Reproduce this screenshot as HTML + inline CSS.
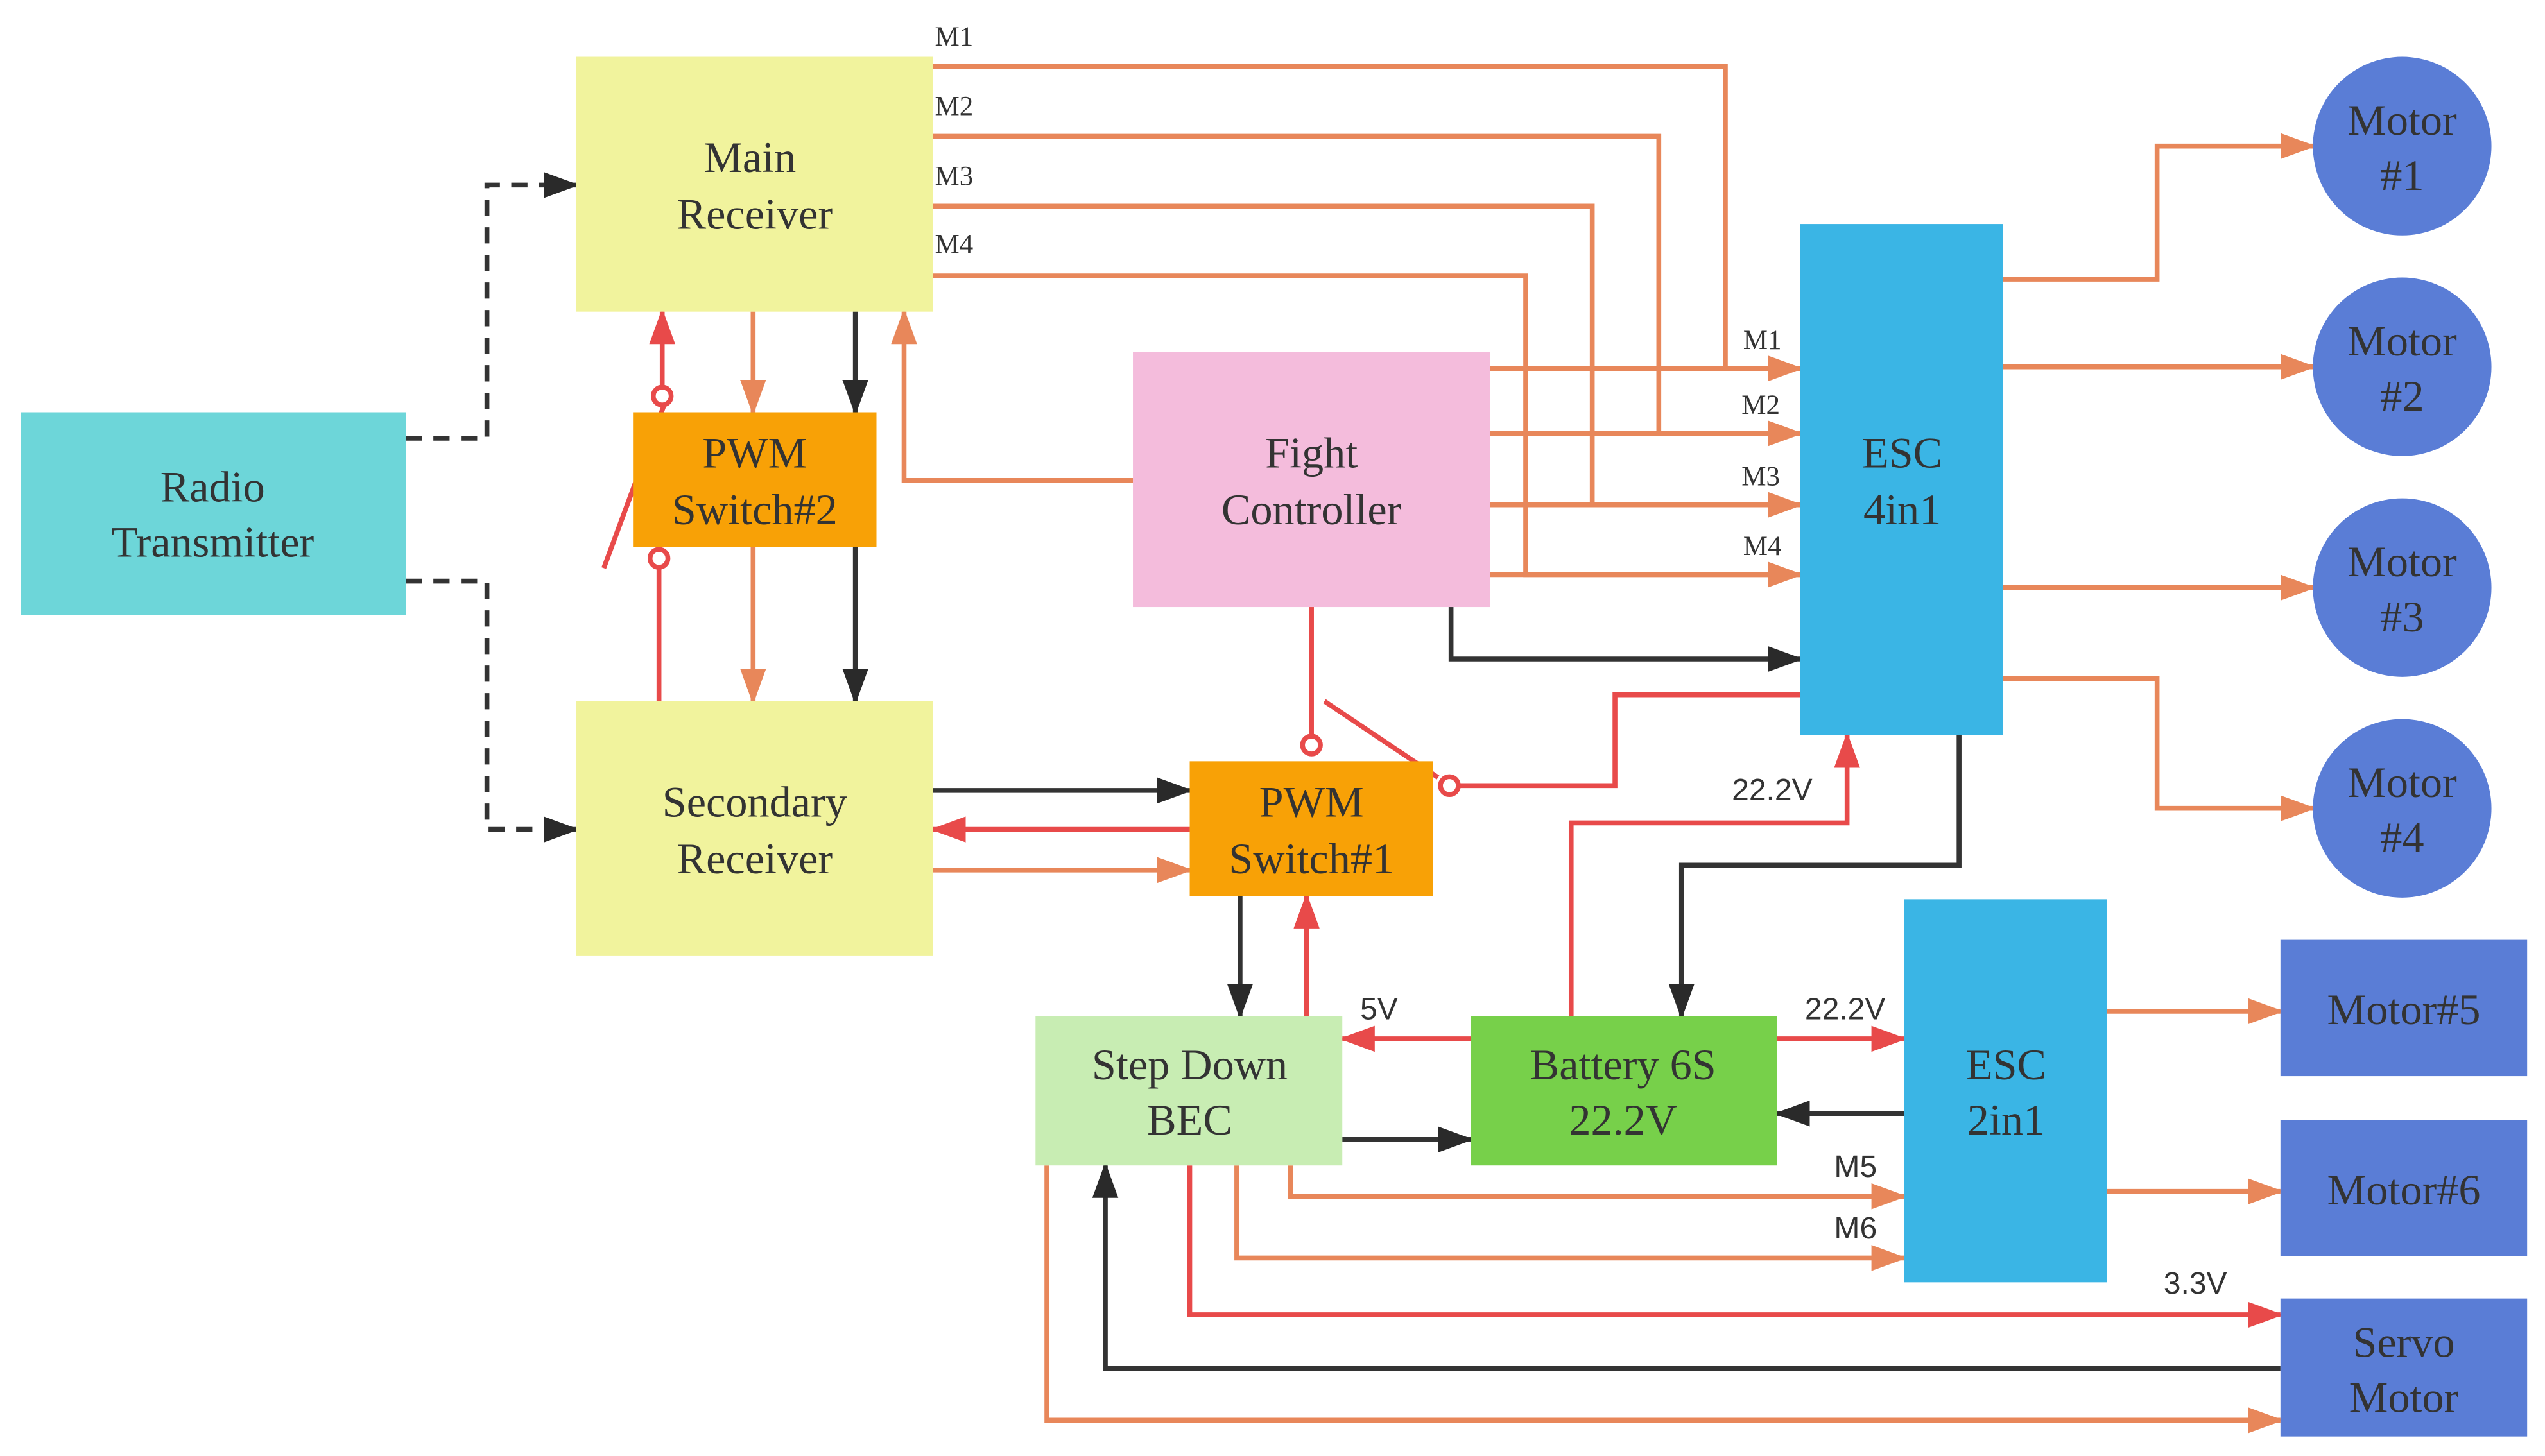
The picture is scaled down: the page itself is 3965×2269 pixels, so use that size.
<!DOCTYPE html>
<html><head><meta charset="utf-8"><style>
html,body{margin:0;padding:0;background:#fff;width:3965px;height:2269px;overflow:hidden}
svg{display:block}
.n{font-family:"Liberation Serif",serif;font-size:27px;fill:#333;text-anchor:middle}
.s{font-family:"Liberation Serif",serif;font-size:17px;fill:#333}
.v{font-family:"Liberation Sans",sans-serif;font-size:19px;fill:#333}
.o{stroke:#e8875a;stroke-width:3;fill:none}
.r{stroke:#e84a4a;stroke-width:3;fill:none}
.k{stroke:#333;stroke-width:3;fill:none}
</style></head><body>
<svg width="3965" height="2269" viewBox="0 0 1568 897" preserveAspectRatio="none" xmlns="http://www.w3.org/2000/svg">
<defs>
<marker id="ao" markerUnits="userSpaceOnUse" markerWidth="22" markerHeight="16" refX="20" refY="8" orient="auto"><path d="M0,0 L22,8 L0,16 Z" fill="#e8875a"/></marker>
<marker id="ar" markerUnits="userSpaceOnUse" markerWidth="22" markerHeight="16" refX="20" refY="8" orient="auto"><path d="M0,0 L22,8 L0,16 Z" fill="#e84a4a"/></marker>
<marker id="ak" markerUnits="userSpaceOnUse" markerWidth="22" markerHeight="16" refX="20" refY="8" orient="auto"><path d="M0,0 L22,8 L0,16 Z" fill="#2a2a2a"/></marker>
</defs>
<path class="k" stroke-dasharray="10,7" d="M250,270 H300 V114 H355" marker-end="url(#ak)"/>
<path class="k" stroke-dasharray="10,7" d="M250,358 H300 V511 H355" marker-end="url(#ak)"/>
<path class="o" d="M575,41 H1063 V227 H1109" marker-end="url(#ao)"/>
<path class="o" d="M575,84 H1022 V267 H1109" marker-end="url(#ao)"/>
<path class="o" d="M575,127 H981 V311 H1109" marker-end="url(#ao)"/>
<path class="o" d="M575,170 H940 V354 H1109" marker-end="url(#ao)"/>
<path class="o" d="M918,227 H1109 M918,267 H1109 M918,311 H1109 M918,354 H1109"/>
<path class="k" d="M894,374 V406 H1109" marker-end="url(#ak)"/>
<path class="o" d="M698,296 H557 V192" marker-end="url(#ao)"/>
<path class="o" d="M464,192 V254" marker-end="url(#ao)"/>
<path class="k" d="M527,192 V254" marker-end="url(#ak)"/>
<path class="o" d="M464,337 V432" marker-end="url(#ao)"/>
<path class="k" d="M527,337 V432" marker-end="url(#ak)"/>
<path class="r" d="M406,432 V350"/>
<circle class="r" cx="406" cy="344" r="5.5" fill="#fff"/>
<path class="r" d="M408,238 V192" marker-end="url(#ar)"/>
<circle class="r" cx="408" cy="244" r="5.5" fill="#fff"/>
<path class="r" d="M372,350 L409,250"/>
<path class="r" d="M808,374 V453"/>
<circle class="r" cx="808" cy="459" r="5.5" fill="#fff"/>
<path class="r" d="M899,484 H995 V428 H1109"/>
<circle class="r" cx="893" cy="484" r="5.5" fill="#fff"/>
<path class="r" d="M816,432 L886,479"/>
<path class="k" d="M575,487 H733" marker-end="url(#ak)"/>
<path class="r" d="M733,511 H575" marker-end="url(#ar)"/>
<path class="o" d="M575,536 H733" marker-end="url(#ao)"/>
<path class="k" d="M764,552 V626" marker-end="url(#ak)"/>
<path class="r" d="M805,626 V552" marker-end="url(#ar)"/>
<path class="r" d="M906,640 H827" marker-end="url(#ar)"/>
<path class="k" d="M827,702 H906" marker-end="url(#ak)"/>
<path class="r" d="M968,626 V507 H1138 V453" marker-end="url(#ar)"/>
<path class="k" d="M1207,453 V533 H1036 V626" marker-end="url(#ak)"/>
<path class="r" d="M1095,640 H1173" marker-end="url(#ar)"/>
<path class="k" d="M1173,686 H1095" marker-end="url(#ak)"/>
<path class="o" d="M795,718 V737 H1173" marker-end="url(#ao)"/>
<path class="o" d="M762,718 V775 H1173" marker-end="url(#ao)"/>
<path class="r" d="M733,718 V810 H1405" marker-end="url(#ar)"/>
<path class="k" d="M1405,843 H681 V718" marker-end="url(#ak)"/>
<path class="o" d="M645,718 V875 H1405" marker-end="url(#ao)"/>
<path class="o" d="M1234,172 H1329 V90 H1425" marker-end="url(#ao)"/>
<path class="o" d="M1234,226 H1425" marker-end="url(#ao)"/>
<path class="o" d="M1234,362 H1425" marker-end="url(#ao)"/>
<path class="o" d="M1234,418 H1329 V498 H1425" marker-end="url(#ao)"/>
<path class="o" d="M1298,623 H1405" marker-end="url(#ao)"/>
<path class="o" d="M1298,734 H1405" marker-end="url(#ao)"/>
<rect x="13" y="254" width="237" height="125" fill="#6dd6d9"/>
<text class="n" x="131" y="309">Radio</text><text class="n" x="131" y="343">Transmitter</text>
<rect x="355" y="35" width="220" height="157" fill="#f1f39d"/>
<text class="n" x="462" y="106">Main</text><text class="n" x="465" y="141">Receiver</text>
<rect x="355" y="432" width="220" height="157" fill="#f1f39d"/>
<text class="n" x="465" y="503">Secondary</text><text class="n" x="465" y="538">Receiver</text>
<rect x="390" y="254" width="150" height="83" fill="#f8a106"/>
<text class="n" x="465" y="288">PWM</text><text class="n" x="465" y="323">Switch#2</text>
<rect x="698" y="217" width="220" height="157" fill="#f4bcdc"/>
<text class="n" x="808" y="288">Fight</text><text class="n" x="808" y="323">Controller</text>
<rect x="733" y="469" width="150" height="83" fill="#f8a106"/>
<text class="n" x="808" y="503">PWM</text><text class="n" x="808" y="538">Switch#1</text>
<rect x="1109" y="138" width="125" height="315" fill="#3ab5e5"/>
<text class="n" x="1172" y="288">ESC</text><text class="n" x="1172" y="323">4in1</text>
<rect x="1173" y="554" width="125" height="236" fill="#3ab5e5"/>
<text class="n" x="1236" y="665">ESC</text><text class="n" x="1236" y="699">2in1</text>
<rect x="638" y="626" width="189" height="92" fill="#c8edb3"/>
<text class="n" x="733" y="665">Step Down</text><text class="n" x="733" y="699">BEC</text>
<rect x="906" y="626" width="189" height="92" fill="#77d04a"/>
<text class="n" x="1000" y="665">Battery 6S</text><text class="n" x="1000" y="699">22.2V</text>
<g fill="#5a7dd6">
<ellipse cx="1480" cy="90" rx="55" ry="55"/><ellipse cx="1480" cy="226" rx="55" ry="55"/>
<ellipse cx="1480" cy="362" rx="55" ry="55"/><ellipse cx="1480" cy="498" rx="55" ry="55"/>
<rect x="1405" y="579" width="152" height="84"/><rect x="1405" y="690" width="152" height="84"/>
<rect x="1405" y="800" width="152" height="85"/>
</g>
<text class="n" x="1480" y="83">Motor</text><text class="n" x="1480" y="117">#1</text>
<text class="n" x="1480" y="219">Motor</text><text class="n" x="1480" y="253">#2</text>
<text class="n" x="1480" y="355">Motor</text><text class="n" x="1480" y="389">#3</text>
<text class="n" x="1480" y="491">Motor</text><text class="n" x="1480" y="525">#4</text>
<text class="n" x="1481" y="631">Motor#5</text>
<text class="n" x="1481" y="742">Motor#6</text>
<text class="n" x="1481" y="836">Servo</text><text class="n" x="1481" y="870">Motor</text>
<text class="s" x="576" y="28">M1</text><text class="s" x="576" y="71">M2</text>
<text class="s" x="576" y="114">M3</text><text class="s" x="576" y="156">M4</text>
<text class="s" x="1074" y="215">M1</text><text class="s" x="1073" y="255">M2</text>
<text class="s" x="1073" y="299">M3</text><text class="s" x="1074" y="342">M4</text>
<text class="v" x="838" y="628">5V</text>
<text class="v" x="1067" y="493">22.2V</text>
<text class="v" x="1112" y="628">22.2V</text>
<text class="v" x="1130" y="725">M5</text>
<text class="v" x="1130" y="763">M6</text>
<text class="v" x="1333" y="797">3.3V</text>
</svg>
</body></html>
